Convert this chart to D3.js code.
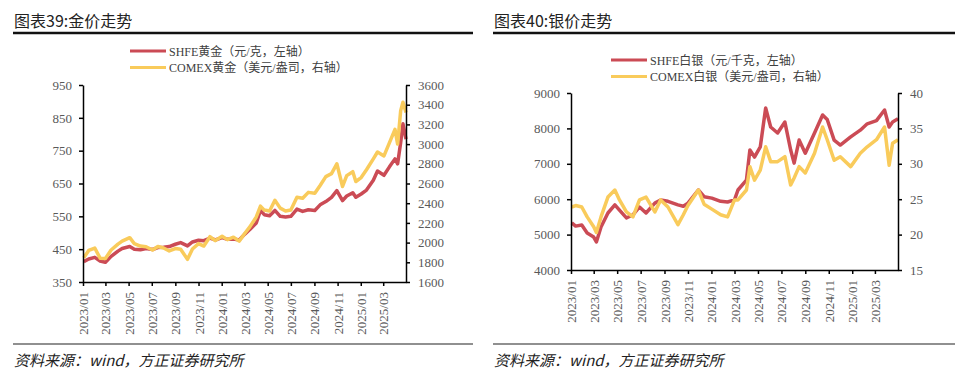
<!DOCTYPE html>
<html>
<head>
<meta charset="utf-8">
<title>金价 / 银价走势</title>
<script src="https://cdn.jsdelivr.net/npm/d3@7"></script>
<style>
  body { margin: 0; background: #fff; }
  svg text { font-family: "Liberation Serif", "Noto Sans CJK SC", serif; }
  .axis path, .axis line { stroke: #000; stroke-width: 1.5; }
  .axis text { fill: #595959; font-size: 13px; }
</style>
</head>
<body>
<svg id="svg"></svg>
<script>
// ---- gold data (SHFE 元/克 left, COMEX 美元/盎司 right)
var goldDates = ["2023-01-03","2023-01-16","2023-02-01","2023-02-15","2023-03-01","2023-03-16",
  "2023-04-03","2023-04-14","2023-05-04","2023-05-16","2023-06-01","2023-06-16","2023-07-03",
  "2023-07-17","2023-08-01","2023-08-16","2023-09-01","2023-09-15","2023-10-03","2023-10-16",
  "2023-11-01","2023-11-15","2023-12-01","2023-12-15","2024-01-02","2024-01-16","2024-02-01",
  "2024-02-16","2024-03-01","2024-03-15","2024-04-01","2024-04-12","2024-04-22","2024-05-06",
  "2024-05-20","2024-06-03","2024-06-17","2024-07-01","2024-07-17","2024-08-01","2024-08-16",
  "2024-09-02","2024-09-16","2024-10-01","2024-10-16","2024-10-30","2024-11-14","2024-11-25",
  "2024-12-11","2024-12-19","2025-01-02","2025-01-16","2025-02-03","2025-02-14","2025-03-03",
  "2025-03-17","2025-04-01","2025-04-08","2025-04-16","2025-04-22","2025-04-30"];
var goldShfe = [412,420,425,414,410,428,444,452,458,450,448,452,449,455,456,458,465,470,460,472,
  477,476,484,478,485,480,481,478,495,510,530,568,555,552,568,550,548,550,572,565,570,568,585,
  595,608,628,598,612,622,608,618,630,660,688,675,700,725,710,775,832,785];
var goldComex = [1845,1920,1945,1842,1838,1925,1985,2015,2050,1990,1965,1958,1925,1960,1945,1915,
  1940,1932,1830,1935,1990,1965,2060,2020,2065,2030,2055,2015,2090,2160,2260,2370,2330,2320,2430,
  2350,2320,2330,2460,2450,2510,2500,2580,2670,2700,2800,2570,2680,2720,2620,2660,2740,2850,2920,
  2880,3010,3150,3000,3340,3425,3320];
var goldLeftTicks = [350,450,550,650,750,850,950];
var goldRightTicks = [1600,1800,2000,2200,2400,2600,2800,3000,3200,3400,3600];

// ---- silver data (SHFE 元/千克 left, COMEX 美元/盎司 right)
var silverDates = ["2023-01-03","2023-01-13","2023-01-29","2023-02-12","2023-03-01","2023-03-08",
  "2023-03-20","2023-04-07","2023-04-25","2023-05-07","2023-05-25","2023-06-11","2023-06-28",
  "2023-07-15","2023-08-07","2023-08-22","2023-09-10","2023-10-06","2023-10-20","2023-11-01",
  "2023-11-28","2023-12-13","2024-01-02","2024-01-25","2024-02-12","2024-03-01","2024-03-10",
  "2024-04-01","2024-04-10","2024-04-22","2024-05-07","2024-05-21","2024-06-03","2024-06-21",
  "2024-07-10","2024-07-25","2024-08-03","2024-08-16","2024-09-01","2024-09-25","2024-10-16",
  "2024-10-28","2024-11-15","2024-12-01","2024-12-28","2025-01-22","2025-02-09","2025-03-05",
  "2025-03-26","2025-04-07","2025-04-16","2025-04-30"];
var silverShfe = [5330,5240,5270,5045,4930,4790,5215,5610,5840,5690,5470,5560,5780,5610,5890,5980,
  5940,5840,5800,5890,6260,6070,6030,5940,5920,5980,6260,6540,7390,7190,7475,8576,8040,7870,8180,
  7390,7020,7670,7300,7870,8380,8250,7670,7530,7760,7950,8130,8220,8520,8040,8180,8270];
var silverComex = [23.9,24.1,23.9,22.5,21.1,20.3,22.5,25.3,26.3,24.9,23.2,22.5,24.9,25.3,23.2,24.9,
  23.9,21.4,22.8,24.1,26.3,24.3,23.6,22.8,22.5,24.9,24.9,26.3,29.6,27.7,29.1,32.4,30.3,30.3,31.0,
  27.0,28.0,29.6,28.7,31.5,35.2,33.4,30.5,31.0,29.6,31.5,32.4,33.4,35.2,29.8,32.9,33.4];
var silverLeftTicks = [4000,5000,6000,7000,8000,9000];
var silverRightTicks = [15,20,25,30,35,40];

var xStart = "2023-01-01", xEnd = "2025-04-30";
var colors = ["#CB4B55", "#F9CB5B"];

var width = 960, height = 374;
var parse = d3.timeParse("%Y-%m-%d");

var svg = d3.select("#svg").attr("width", width).attr("height", height);
svg.append("rect").attr("width", width).attr("height", height).attr("fill", "#fff");

var panels = [
  { title: "图表39:金价走势", legend: ["SHFE黄金（元/克，左轴）", "COMEX黄金（美元/盎司，右轴）"],
    dates: goldDates, left: goldShfe, right: goldComex, lt: goldLeftTicks, rt: goldRightTicks,
    plot: {x0: 83, x1: 406, y0: 85, y1: 282}, legX: 130, legY: 51, ruleX: [13, 473] },
  { title: "图表40:银价走势", legend: ["SHFE白银（元/千克，左轴）", "COMEX白银（美元/盎司，右轴）"],
    dates: silverDates, left: silverShfe, right: silverComex, lt: silverLeftTicks, rt: silverRightTicks,
    plot: {x0: 571, x1: 898, y0: 93, y1: 270}, legX: 611, legY: 60, ruleX: [493, 955] }
];

panels.forEach(function(p) {
  var g = svg.append("g");
  var r = p.ruleX;

  // title + rules
  g.append("text").attr("x", r[0] + 1).attr("y", 27)
    .style("font-family", "'Noto Sans CJK SC', sans-serif")
    .style("font-size", "16px").attr("fill", "#222").text(p.title);
  g.append("line").attr("x1", r[0]).attr("x2", r[1]).attr("y1", 33).attr("y2", 33)
    .attr("stroke", "#111").attr("stroke-width", 2.5);
  g.append("line").attr("x1", r[0]).attr("x2", r[1]).attr("y1", 344).attr("y2", 344)
    .attr("stroke", "#222").attr("stroke-width", 1.2);
  g.append("text").attr("x", r[0] + 1).attr("y", 366)
    .style("font-family", "'Noto Sans CJK SC', sans-serif")
    .style("font-size", "15px").style("font-style", "italic").attr("fill", "#222")
    .text("资料来源：wind，方正证券研究所");

  // scales
  var x = d3.scaleTime().domain([parse(xStart), parse(xEnd)]).range([p.plot.x0, p.plot.x1]);
  var yL = d3.scaleLinear().domain(d3.extent(p.lt)).range([p.plot.y1, p.plot.y0]);
  var yR = d3.scaleLinear().domain(d3.extent(p.rt)).range([p.plot.y1, p.plot.y0]);

  var rows = p.dates.map(function(d, i) { return {date: parse(d), l: p.left[i], r: p.right[i]}; });

  var lineL = d3.line().x(function(d) { return x(d.date); }).y(function(d) { return yL(d.l); });
  var lineR = d3.line().x(function(d) { return x(d.date); }).y(function(d) { return yR(d.r); });

  g.append("path").datum(rows).attr("d", lineL).attr("fill", "none")
    .attr("stroke", colors[0]).attr("stroke-width", 3.5).attr("stroke-linejoin", "round");
  g.append("path").datum(rows).attr("d", lineR).attr("fill", "none")
    .attr("stroke", colors[1]).attr("stroke-width", 3.5).attr("stroke-linejoin", "round");

  // axes
  g.append("g").attr("class", "axis")
    .attr("transform", "translate(" + p.plot.x0 + ",0)")
    .call(d3.axisLeft(yL).tickValues(p.lt).tickFormat(d3.format("d"))
      .tickSize(4).tickPadding(7).tickSizeOuter(0));
  g.append("g").attr("class", "axis")
    .attr("transform", "translate(" + p.plot.x1 + ",0)")
    .call(d3.axisRight(yR).tickValues(p.rt).tickFormat(d3.format("d"))
      .tickSize(4).tickPadding(8).tickSizeOuter(0));

  var xTicks = x.ticks(d3.timeMonth.every(2));
  var xa = g.append("g").attr("class", "axis")
    .attr("transform", "translate(0," + p.plot.y1 + ")")
    .call(d3.axisBottom(x).tickValues(xTicks).tickFormat(d3.timeFormat("%Y/%m"))
      .tickSize(4).tickSizeOuter(0));
  xa.selectAll("text")
    .attr("transform", "rotate(-90)")
    .attr("x", -10).attr("y", 0).attr("dy", "0.35em")
    .style("text-anchor", "end");

  // legend
  p.legend.forEach(function(t, i) {
    var ly = p.legY + i * 16.5;
    g.append("line").attr("x1", p.legX).attr("x2", p.legX + 36).attr("y1", ly).attr("y2", ly)
      .attr("stroke", colors[i]).attr("stroke-width", 3);
    g.append("text").attr("x", p.legX + 39).attr("y", ly + 4.5)
      .style("font-size", "12px").attr("fill", "#404040").text(t);
  });
});
</script>
</body>
</html>
